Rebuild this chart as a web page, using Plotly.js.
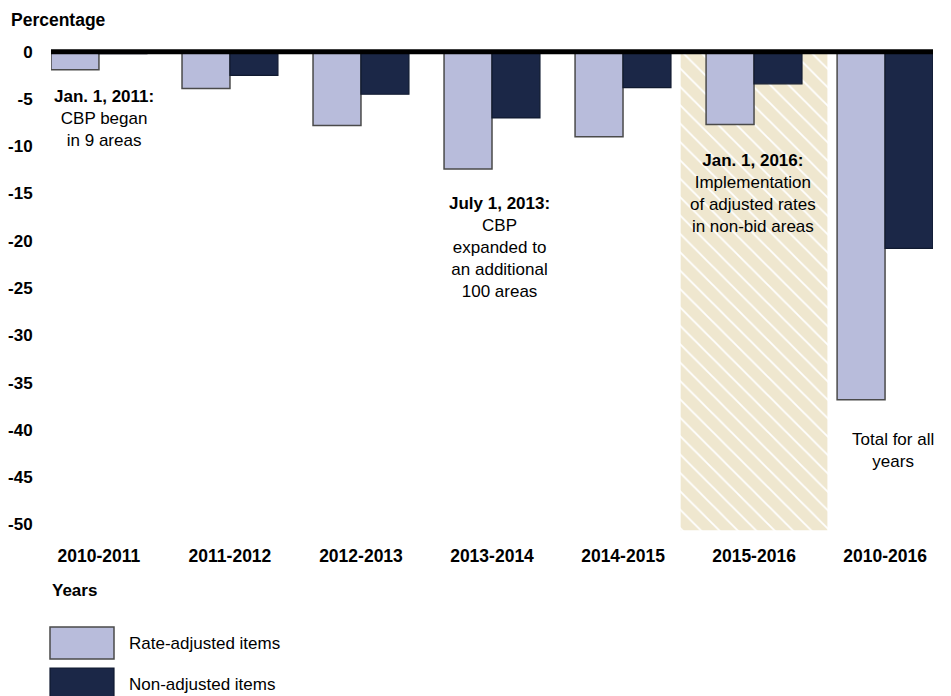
<!DOCTYPE html>
<html>
<head>
<meta charset="utf-8">
<script src="https://cdn.plot.ly/plotly-3.0.1.min.js"></script>
<style>
  html, body { margin: 0; padding: 0; background: #ffffff; }
  #chart { width: 951px; height: 696px; }
</style>
</head>
<body>
<div id="chart"></div>
<script>
// ---- Data ----
const categories = ['2010-2011', '2011-2012', '2012-2013', '2013-2014', '2014-2015', '2015-2016', '2010-2016'];
const rateAdjusted = [-1.9, -3.9, -7.8, -12.4, -9.0, -7.7, -36.8];
const nonAdjusted = [-0.2, -2.5, -4.5, -7.0, -3.8, -3.4, -20.8];
const highlightCategory = ['2015-2016'];
const highlightDepth = [-50.6];
const yTickValues = [0, -5, -10, -15, -20, -25, -30, -35, -40, -45, -50];
const seriesNames = ['Rate-adjusted items', 'Non-adjusted items'];

// ---- Layout geometry (pixels) ----
const W = 951, H = 696;
const L = 51, R = 18, T = 46, B = 162;
const PW = W - L - R, PH = H - T - B;
const px = v => (v - L) / PW;           // pixel x -> paper x
const py = v => (H - B - v) / PH;       // pixel y -> paper y

const FONT = 'Liberation Sans, Arial, sans-serif';
const TXT = '#000000';
const rateColor = '#b8bcdb';
const nonColor = '#1b2747';
const beige = '#efe7cf';

const traces = [
  {
    type: 'bar', x: highlightCategory, y: highlightDepth,
    width: 1.12, offset: -0.56,
    marker: {
      color: beige,
      line: { width: 0 },
      pattern: { shape: '\\', fillmode: 'replace', bgcolor: beige, fgcolor: '#ffffff', size: 13, solidity: 0.14 }
    },
    hoverinfo: 'skip', showlegend: false
  },
  {
    type: 'bar', name: seriesNames[0], x: categories, y: rateAdjusted,
    width: 0.366, offset: -0.366,
    marker: { color: rateColor, line: { color: '#4a4a4a', width: 1.5 } },
    showlegend: false
  },
  {
    type: 'bar', name: seriesNames[1], x: categories, y: nonAdjusted,
    width: 0.366, offset: 0,
    marker: { color: nonColor, line: { color: '#101a30', width: 1.2 } },
    showlegend: false
  }
];

const annFont = { family: FONT, size: 17, color: TXT };

const annotations = [
  { xref: 'x', yref: 'y', x: 0.04, y: -7.03, text: '<b>Jan. 1, 2011:</b><br>CBP began<br>in 9 areas' },
  { xref: 'x', yref: 'y', x: 3.06, y: -20.67, text: '<b>July 1, 2013:</b><br>CBP<br>expanded to<br>an additional<br>100 areas' },
  { xref: 'x', yref: 'y', x: 4.99, y: -14.96, text: '<b>Jan. 1, 2016:</b><br>Implementation<br>of adjusted rates<br>in non-bid areas' },
  { xref: 'x', yref: 'y', x: 6.06, y: -42.2, text: 'Total for all<br>years' }
].map(a => Object.assign({ showarrow: false, align: 'center', xanchor: 'center', yanchor: 'middle', font: annFont }, a));

annotations.push(
  { xref: 'paper', yref: 'paper', x: px(9), y: py(20), xanchor: 'left', yanchor: 'middle', showarrow: false,
    text: '<b>Percentage</b>', font: { family: FONT, size: 17.5, color: TXT } },
  { xref: 'paper', yref: 'paper', x: px(50), y: py(590), xanchor: 'left', yanchor: 'middle', showarrow: false,
    text: '<b>Years</b>', font: annFont },
  { xref: 'paper', yref: 'paper', x: px(127), y: py(643), xanchor: 'left', yanchor: 'middle', showarrow: false,
    text: seriesNames[0], font: annFont },
  { xref: 'paper', yref: 'paper', x: px(127), y: py(684), xanchor: 'left', yanchor: 'middle', showarrow: false,
    text: seriesNames[1], font: annFont }
);

const shapes = [
  // thick zero reference line
  { type: 'line', xref: 'paper', yref: 'y', x0: 0, x1: 1, y0: 0, y1: 0, layer: 'above',
    line: { color: '#000000', width: 5 } },
  // legend swatches
  { type: 'rect', xref: 'paper', yref: 'paper', x0: px(50), x1: px(114), y0: py(627), y1: py(659),
    fillcolor: rateColor, line: { color: '#4a4a4a', width: 1.5 } },
  { type: 'rect', xref: 'paper', yref: 'paper', x0: px(50), x1: px(114), y0: py(668), y1: py(702),
    fillcolor: nonColor, line: { color: '#101a30', width: 1.2 } }
];

const layout = {
  width: W, height: H,
  margin: { l: L, r: R, t: T, b: B, pad: 0 },
  paper_bgcolor: '#ffffff', plot_bgcolor: '#ffffff',
  barmode: 'overlay',
  showlegend: false,
  font: { family: FONT, size: 17, color: TXT },
  xaxis: {
    type: 'category', categoryorder: 'array', categoryarray: categories,
    range: [-0.366, 6.366],
    showgrid: false, zeroline: false, showline: false,
    ticks: 'outside', ticklen: 6, tickcolor: 'rgba(0,0,0,0)',
    tickfont: { family: FONT, size: 17.5, color: TXT, weight: 'bold' },
    fixedrange: true
  },
  yaxis: {
    range: [-51, 0.6],
    tickmode: 'array', tickvals: yTickValues, ticktext: yTickValues.map(String),
    showgrid: false, zeroline: false, showline: false,
    ticks: 'outside', ticklen: 14, tickcolor: 'rgba(0,0,0,0)',
    tickfont: { family: FONT, size: 17, color: TXT, weight: 'bold' },
    fixedrange: true
  },
  annotations: annotations,
  shapes: shapes
};

Plotly.newPlot('chart', traces, layout, { displayModeBar: false, staticPlot: true });
</script>
</body>
</html>
